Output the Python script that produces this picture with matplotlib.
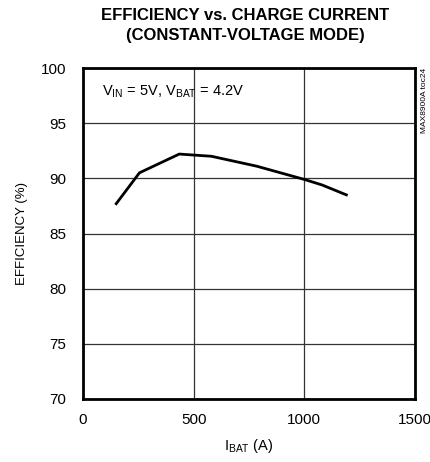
import numpy as np
import matplotlib
matplotlib.use("Agg")
import matplotlib.pyplot as plt

# data
i_bat = [150, 255, 435, 580, 785, 1000, 1080, 1190]
efficiency = [87.7, 90.5, 92.2, 92.0, 91.1, 89.9, 89.4, 88.5]

xticks = [0, 500, 1000, 1500]
yticks = [70, 75, 80, 85, 90, 95, 100]

plt.rcParams['font.family'] = ['Liberation Sans', 'DejaVu Sans']
plt.rcParams['mathtext.fontset'] = 'custom'
plt.rcParams['mathtext.rm'] = 'Liberation Sans'

fig = plt.figure(figsize=(4.3, 4.62), dpi=100)
ax = fig.add_axes([83 / 430, 1 - 399 / 462, 332 / 430, 331 / 462])

ax.plot(i_bat, efficiency, color='black', lw=2)

ax.set_xlim(0, 1500)
ax.set_ylim(70, 100)
ax.set_xticks(xticks)
ax.set_yticks(yticks)
ax.grid(True, color='#333333', lw=0.9)
ax.tick_params(length=0, labelsize=11)
ax.tick_params(axis='x', pad=10)
ax.tick_params(axis='y', pad=12)
for s in ax.spines.values():
    s.set_linewidth(2)

ax.set_xlabel(r'I$_{\rm BAT}$ (A)', fontsize=10.5, labelpad=7)
ax.set_ylabel('EFFICIENCY (%)', fontsize=9.5, labelpad=9)

ax.text(85, 97.9, r'V$_{\rm IN}$ = 5V, V$_{\rm BAT}$ = 4.2V', fontsize=10.5, va='center')

fig.text(0.57, 0.982, 'EFFICIENCY vs. CHARGE CURRENT\n(CONSTANT-VOLTAGE MODE)',
         ha='center', va='top', fontsize=12, fontweight='bold', linespacing=1.35)
fig.text(425 / 430, 1 - 68 / 462, 'MAX8900A toc24', rotation=90, ha='center', va='top', fontsize=6)

plt.savefig('out.png', dpi=100)
